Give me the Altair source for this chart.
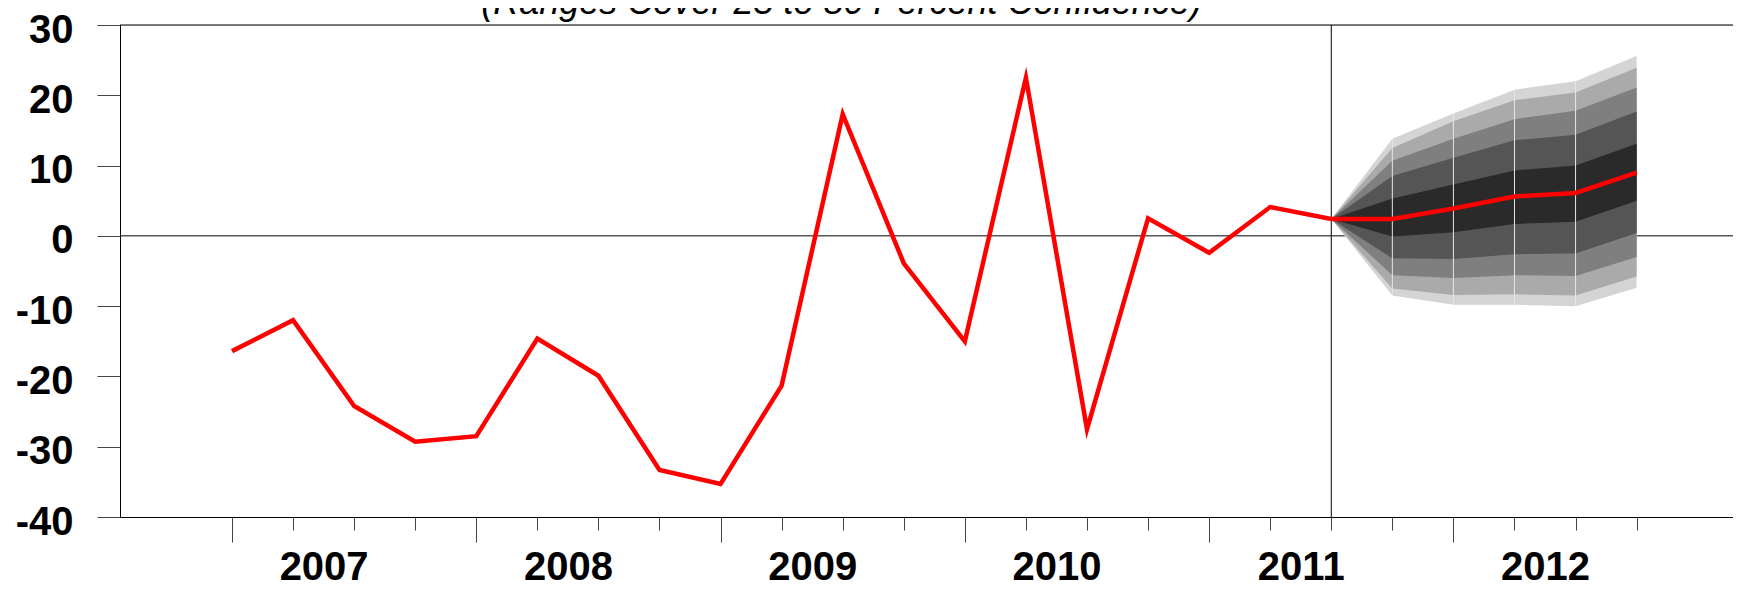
import altair as alt
import pandas as pd

# ---- data -----------------------------------------------------------------
periods = [f"{y}Q{q}" for y in range(2007, 2013) for q in range(1, 5)]
years = [2007, 2008, 2009, 2010, 2011, 2012]

# actual values 2007Q1 .. 2011Q3
actual = [-16.4, -12.0, -24.2, -29.3, -28.5, -14.6, -19.9, -33.3, -35.3, -21.3,
          17.3, -3.9, -15.0, 22.5, -27.5, 2.5, -2.4, 4.1, 2.4]
# central forecast 2011Q4 .. 2012Q4
forecast = [2.4, 3.9, 5.6, 6.1, 9.0]

# fan bands, 2011Q3 .. 2012Q4 (outermost first)
band_names = ["80%", "70%", "55%", "40%", "25%"]
band_colors = ["#d4d4d4", "#aaaaaa", "#7f7f7f", "#555555", "#2a2a2a"]
band_hi = [
    [2.4, 13.8, 17.4, 20.8, 22.0, 25.6],
    [2.4, 12.5, 16.3, 19.3, 20.4, 23.9],
    [2.4, 10.7, 13.8, 16.6, 17.8, 21.1],
    [2.4, 8.5, 11.1, 13.6, 14.4, 17.7],
    [2.4, 5.3, 7.3, 9.3, 10.0, 13.1],
]
band_lo = [
    [2.4, -8.5, -9.8, -9.8, -10.0, -7.4],
    [2.4, -7.5, -8.4, -8.3, -8.5, -5.8],
    [2.4, -5.6, -6.0, -5.6, -5.7, -3.0],
    [2.4, -3.2, -3.3, -2.6, -2.5, 0.4],
    [2.4, -0.1, 0.5, 1.7, 2.0, 5.0],
]
forecast_start = len(actual) - 1  # index of 2011Q3
y_ticks = [-40, -30, -20, -10, 0, 10, 20, 30]
subtitle = "(Ranges Cover 25 to 80 Percent Confidence)"

# ---- tables ---------------------------------------------------------------
line_df = pd.DataFrame({
    "period": periods,
    "k": list(range(len(periods))),
    "value": actual + forecast,
})
fan_k = list(range(forecast_start, len(periods)))
band_dfs = [
    pd.DataFrame({"k": fan_k, "lo": lo, "hi": hi, "band": name})
    for name, lo, hi in zip(band_names, band_lo, band_hi)
]
seam_df = pd.DataFrame({"k": fan_k[1:-1], "lo": band_lo[0][1:-1], "hi": band_hi[0][1:-1]})
vline_df = pd.DataFrame({"k": [forecast_start]})
zero_df = pd.DataFrame({"v": [0]})
top_df = pd.DataFrame({"v": [max(y_ticks)]})

# ---- scales / axes ----------------------------------------------------------
XDOM = [-1.834, 24.578]
x_scale = alt.Scale(domain=XDOM, nice=False, zero=False)
y_scale = alt.Scale(domain=[-40, 30], nice=False, zero=False)
FONT = "Liberation Sans"

y_axis = alt.Axis(values=y_ticks, grid=False, tickSize=23, tickColor="#444444",
                  tickWidth=1, domainColor="#000000", domainWidth=1,
                  labelExpr="'' + datum.value",
                  labelFont=FONT, labelFontSize=40, labelFontWeight="bold",
                  labelColor="#000000", labelPadding=24, labelOffset=5, title=None)

x_axis_ticks = alt.Axis(orient="bottom", values=list(range(len(periods))), labels=False,
                        grid=False, tickSize=13, tickColor="#444444", tickWidth=1,
                        domainColor="#000000", domainWidth=1, title=None)
x_axis_long = alt.Axis(orient="bottom", values=list(range(0, len(periods), 4)), labels=False,
                       grid=False, tickSize=25, tickColor="#444444", tickWidth=1,
                       domain=False, title=None)
x_axis_years = alt.Axis(orient="bottom", values=[4 * i + 1.5 for i in range(len(years))],
                        labelExpr=f"{years[0]} + floor(datum.value / 4)",
                        grid=False, ticks=False, tickSize=0, domain=False,
                        labelFont=FONT, labelFontSize=40, labelFontWeight="bold",
                        labelColor="#000000", labelPadding=30, labelFlush=False,
                        labelOverlap=False, title=None)

# ---- layers -----------------------------------------------------------------
zero_rule = alt.Chart(zero_df).mark_rule(color="#000000", strokeWidth=1).encode(
    y=alt.Y("v:Q", scale=y_scale, axis=y_axis))
top_rule = alt.Chart(top_df).mark_rule(color="#000000", strokeWidth=1.2).encode(
    y=alt.Y("v:Q", scale=y_scale, axis=y_axis))

bands = [
    alt.Chart(df).mark_area(color=col, opacity=1, interpolate="linear").encode(
        x=alt.X("k:Q", scale=x_scale, axis=None),
        y=alt.Y("lo:Q", scale=y_scale, axis=y_axis),
        y2="hi:Q",
    )
    for df, col in zip(band_dfs, band_colors)
]

seams = alt.Chart(seam_df).mark_rule(color="#e6e6e6", strokeWidth=1).encode(
    x=alt.X("k:Q", scale=x_scale, axis=x_axis_long),
    y=alt.Y("lo:Q", scale=y_scale, axis=y_axis),
    y2="hi:Q",
)

vline = alt.Chart(vline_df).mark_rule(color="#000000", strokeWidth=1).encode(
    x=alt.X("k:Q", scale=x_scale, axis=x_axis_years))

line = alt.Chart(line_df).mark_line(color="#ff0000", strokeWidth=4.5,
                                    strokeJoin="miter", strokeMiterLimit=10).encode(
    x=alt.X("k:Q", scale=x_scale, axis=x_axis_ticks),
    y=alt.Y("value:Q", scale=y_scale, axis=y_axis),
)

chart = alt.layer(zero_rule, *bands, seams, vline, top_rule, line).resolve_axis(
    x="independent"
).properties(
    width=1613,
    height=492,
    padding={"left": 112, "top": 17, "right": 0, "bottom": 80},
    autosize=alt.AutoSizeParams(type="none"),
    title=alt.TitleParams(
        text=subtitle,
        font=FONT, fontSize=36, fontStyle="italic", fontWeight="normal",
        color="#000000", anchor="middle", frame="group", baseline="alphabetic",
        offset=0, dx=-85, dy=40,
    ),
).configure_view(stroke=None).configure(background="#ffffff")

chart.save("out.html", embed_options={"renderer": "svg", "actions": False})
